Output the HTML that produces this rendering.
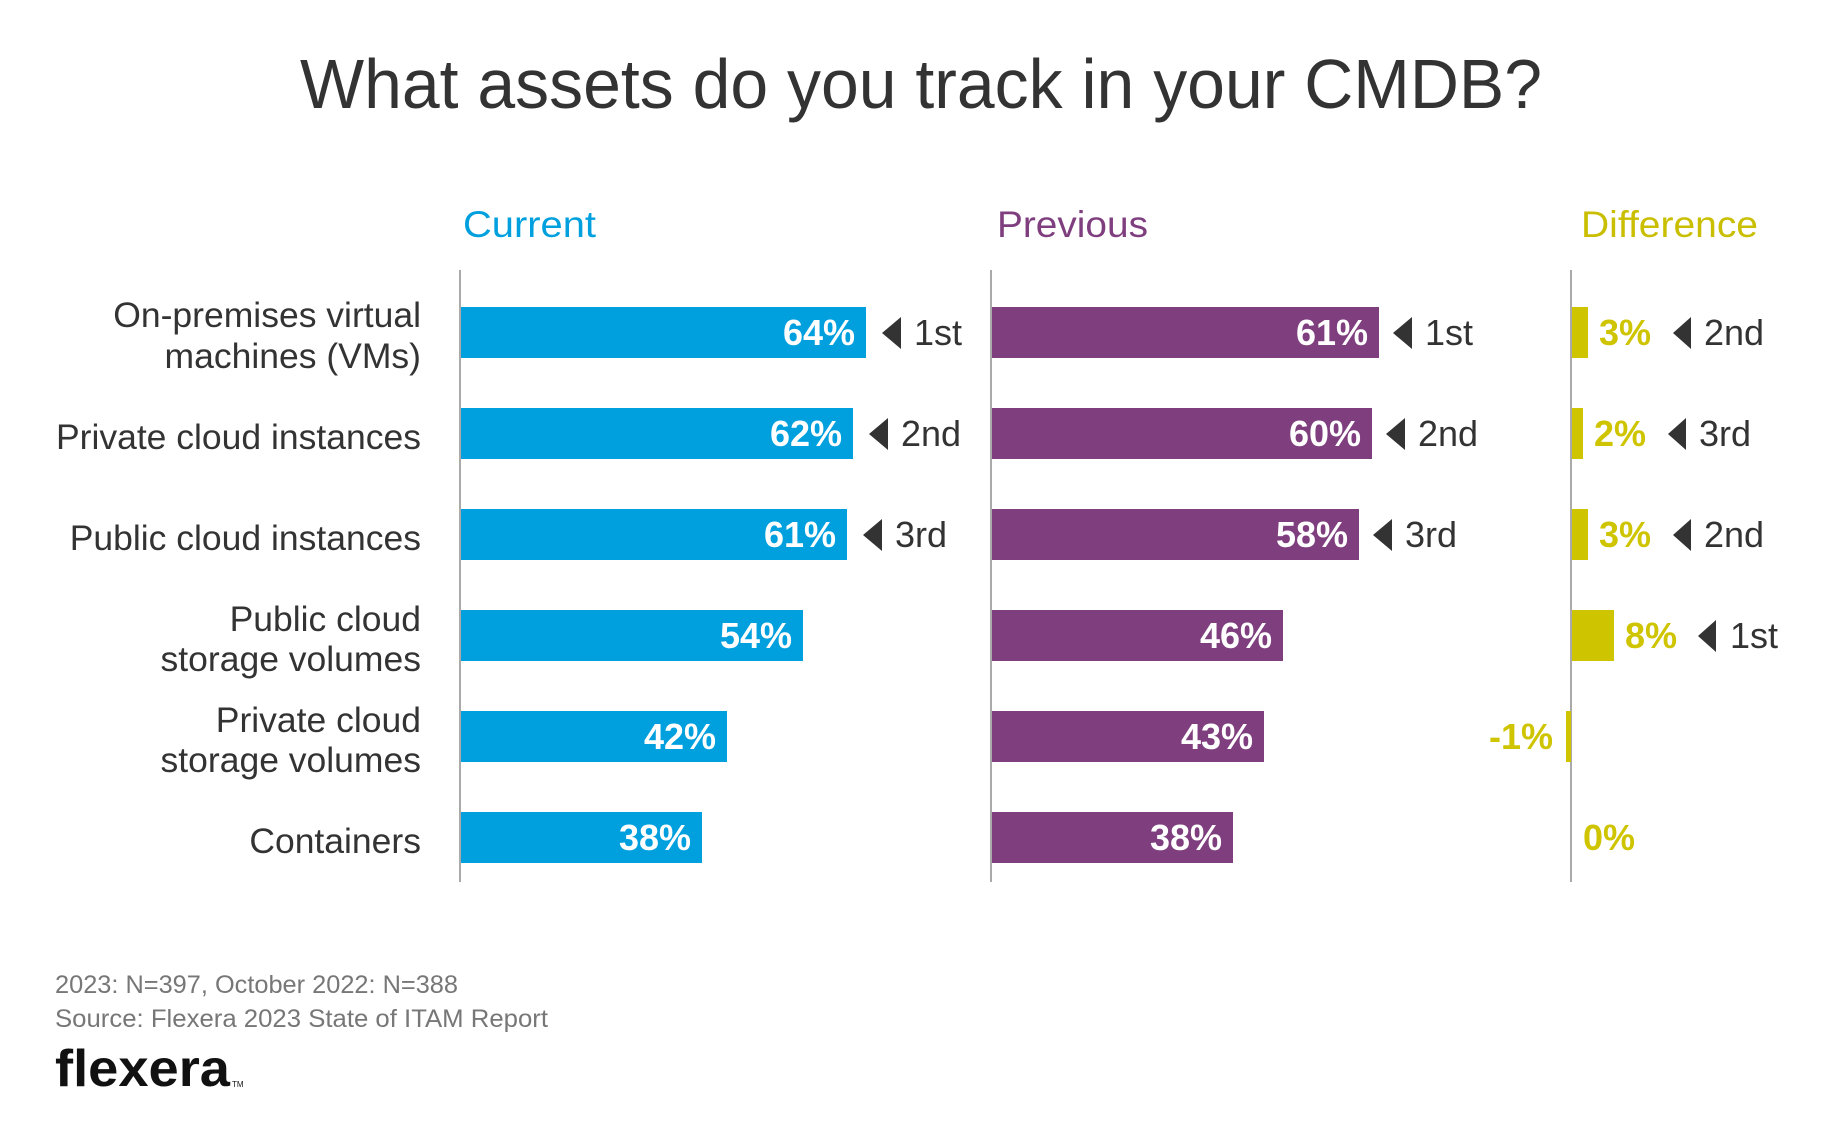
<!DOCTYPE html>
<html><head><meta charset="utf-8"><style>
html,body{margin:0;padding:0;background:#fff;}
svg{display:block;font-family:"Liberation Sans",sans-serif;}
</style></head><body>
<svg width="1836" height="1138" viewBox="0 0 1836 1138">
<text x="921" y="108" text-anchor="middle" font-size="70" fill="#333" textLength="1242" lengthAdjust="spacingAndGlyphs">What assets do you track in your CMDB?</text>
<text x="463" y="237" font-size="37" fill="#00a0df" textLength="133" lengthAdjust="spacingAndGlyphs">Current</text>
<text x="997" y="237" font-size="37" fill="#7f3f7f" textLength="151" lengthAdjust="spacingAndGlyphs">Previous</text>
<text x="1581" y="237" font-size="37" fill="#c9be00" textLength="177" lengthAdjust="spacingAndGlyphs">Difference</text>
<g stroke="#aaa" stroke-width="2">
<line x1="460" y1="270" x2="460" y2="882"/><line x1="996" y1="270" x2="996" y2="882" transform="translate(-5,0)"/><line x1="1579" y1="270" x2="1579" y2="882" transform="translate(-8,0)"/>
</g>
<g font-size="35.5" fill="#333" text-anchor="end">
<text x="421" y="327">On-premises virtual</text><text x="421" y="368">machines (VMs)</text>
<text x="421" y="449">Private cloud instances</text>
<text x="421" y="550">Public cloud instances</text>
<text x="421" y="631">Public cloud</text><text x="421" y="671">storage volumes</text>
<text x="421" y="732">Private cloud</text><text x="421" y="772">storage volumes</text>
<text x="421" y="853">Containers</text>
</g>
<g fill="#00a0df">
<rect x="461" y="307" width="405" height="51"/><rect x="461" y="408" width="392" height="51"/>
<rect x="461" y="509" width="386" height="51"/><rect x="461" y="610" width="342" height="51"/>
<rect x="461" y="711" width="266" height="51"/><rect x="461" y="812" width="241" height="51"/>
</g>
<g font-size="36" font-weight="bold" fill="#fff" text-anchor="end">
<text x="855" y="345">64%</text><text x="842" y="446">62%</text><text x="836" y="547">61%</text>
<text x="792" y="648">54%</text><text x="716" y="749">42%</text><text x="691" y="850">38%</text>
</g>
<g fill="#333">
<polygon points="882,333 901,317 901,349"/><polygon points="869,434 888,418 888,450"/><polygon points="863,535 882,519 882,551"/>
</g>
<g font-size="36" fill="#333">
<text x="914" y="345">1st</text><text x="901" y="446">2nd</text><text x="895" y="547">3rd</text>
</g>
<g transform="translate(-5,0)">
<g fill="#7f3f7f">
<rect x="997" y="307" width="387" height="51"/><rect x="997" y="408" width="380" height="51"/>
<rect x="997" y="509" width="367" height="51"/><rect x="997" y="610" width="291" height="51"/>
<rect x="997" y="711" width="272" height="51"/><rect x="997" y="812" width="241" height="51"/>
</g>
<g font-size="36" font-weight="bold" fill="#fff" text-anchor="end">
<text x="1373" y="345">61%</text><text x="1366" y="446">60%</text><text x="1353" y="547">58%</text>
<text x="1277" y="648">46%</text><text x="1258" y="749">43%</text><text x="1227" y="850">38%</text>
</g>
<g fill="#333">
<polygon points="1398,333 1417,317 1417,349"/><polygon points="1391,434 1410,418 1410,450"/><polygon points="1378,535 1397,519 1397,551"/>
</g>
<g font-size="36" fill="#333">
<text x="1430" y="345">1st</text><text x="1423" y="446">2nd</text><text x="1410" y="547">3rd</text>
</g>
</g>
<g transform="translate(-8,0)">
<g fill="#cfc400">
<rect x="1580" y="307" width="16" height="51"/><rect x="1580" y="408" width="11" height="51"/>
<rect x="1580" y="509" width="16" height="51"/><rect x="1580" y="610" width="42" height="51"/>
<rect x="1574" y="711" width="5" height="51"/>
</g>
<g font-size="36" font-weight="bold" fill="#cfc400">
<text x="1607" y="345">3%</text><text x="1602" y="446">2%</text><text x="1607" y="547">3%</text>
<text x="1633" y="648">8%</text><text x="1561" y="749" text-anchor="end">-1%</text><text x="1591" y="850">0%</text>
</g>
<g fill="#333">
<polygon points="1681,333 1699,317 1699,349"/><polygon points="1676,434 1694,418 1694,450"/><polygon points="1681,535 1699,519 1699,551"/>
<polygon points="1706,636 1724,620 1724,652"/>
</g>
<g font-size="36" fill="#333">
<text x="1712" y="345">2nd</text><text x="1707" y="446">3rd</text><text x="1712" y="547">2nd</text>
<text x="1738" y="648">1st</text>
</g>
</g>
<text x="55" y="993" font-size="25" fill="#777" textLength="403" lengthAdjust="spacingAndGlyphs">2023: N=397, October 2022: N=388</text>
<text x="55" y="1027" font-size="25" fill="#777" textLength="493" lengthAdjust="spacingAndGlyphs">Source: Flexera 2023 State of ITAM Report</text>
<text x="55" y="1086" font-size="52" font-weight="bold" fill="#111" textLength="175" lengthAdjust="spacingAndGlyphs">flexera</text>
<text x="232" y="1087" font-size="8" fill="#111">TM</text>
</svg>
</body></html>
